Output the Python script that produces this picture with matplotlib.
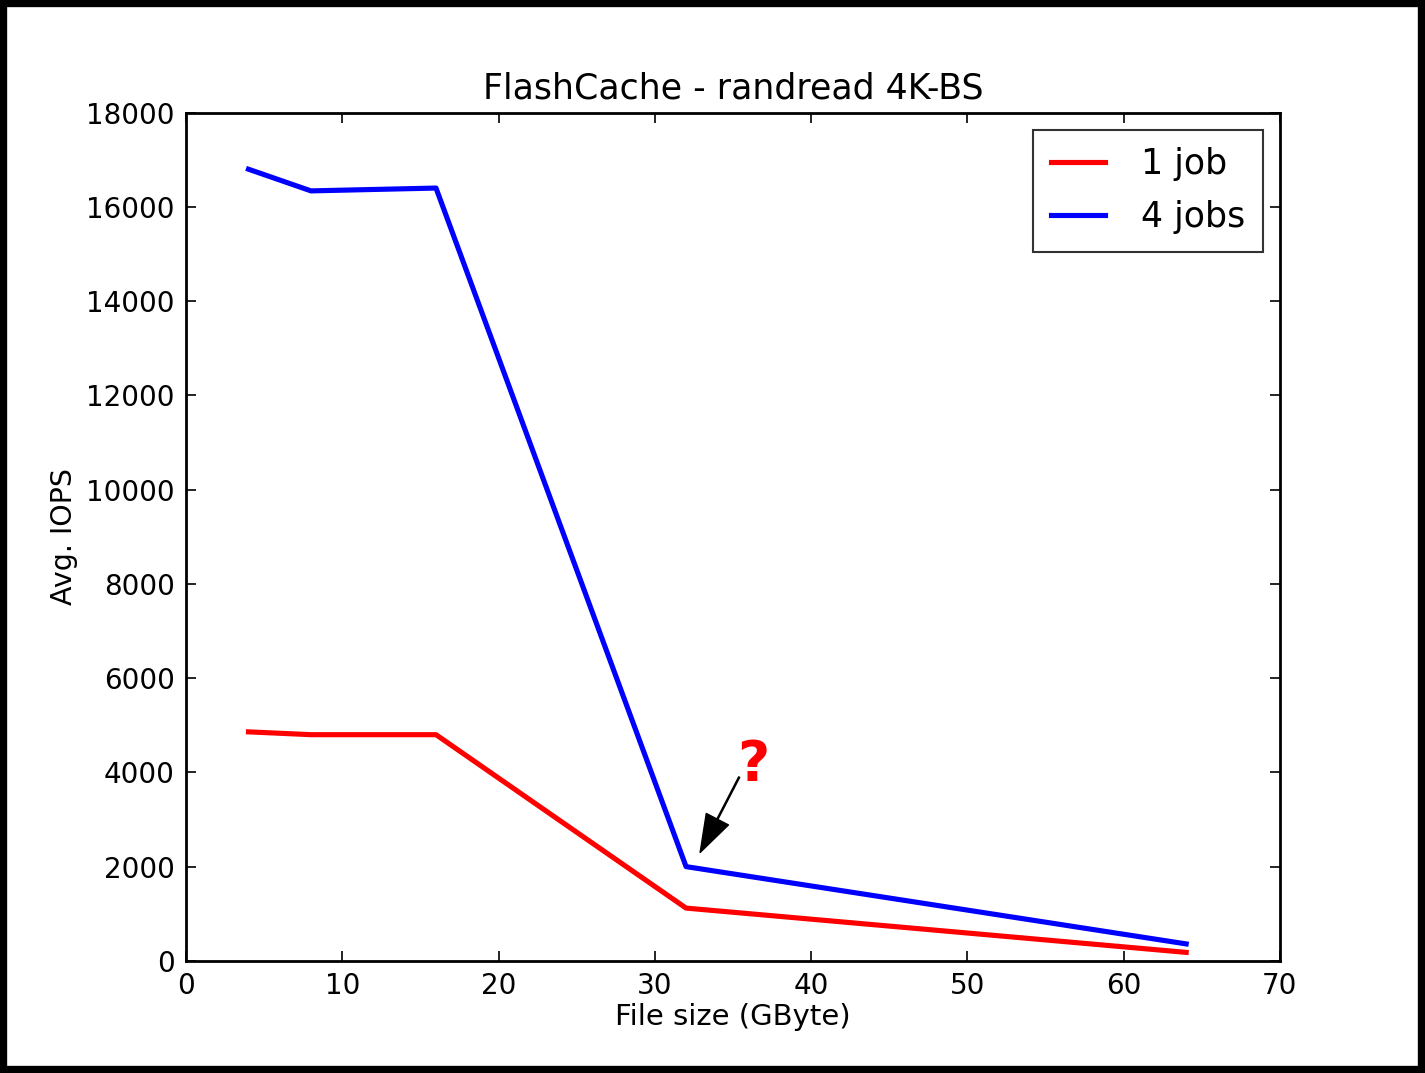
import matplotlib
matplotlib.use("Agg")
import matplotlib.pyplot as plt
from matplotlib.patches import Rectangle

# file size (GByte) and average IOPS
file_size = [4, 8, 16, 32, 64]
iops_1job = [4860, 4800, 4800, 1120, 180]
iops_4jobs = [16800, 16340, 16400, 2000, 360]

plt.rcParams["font.family"] = "DejaVu Sans"

fig = plt.figure(figsize=(14.25, 10.73), dpi=100)
ax = fig.add_axes([0.1305, 0.1045, 0.7677, 0.7905])

ax.plot(file_size, iops_1job, color="#ff0000", lw=3.7, label="1 job")
ax.plot(file_size, iops_4jobs, color="#0000ff", lw=3.7, label="4 jobs")

ax.set_xlim(0, 70)
ax.set_ylim(0, 18000)
ax.set_xticks(range(0, 71, 10))
ax.set_yticks(range(0, 18001, 2000))
ax.tick_params(direction="in", length=7, width=1.2, top=True, right=True,
               labelsize=20, pad=8)
for s in ax.spines.values():
    s.set_linewidth(2)

ax.set_title("FlashCache - randread 4K-BS", fontsize=25, pad=10)
ax.set_xlabel("File size (GByte)", fontsize=21, labelpad=2)
ax.set_ylabel("Avg. IOPS", fontsize=20.5, labelpad=6)

leg = ax.legend(loc="upper right", fontsize=25, fancybox=False,
                borderpad=0.5, handlelength=1.55, handletextpad=1.05,
                borderaxespad=0.5, labelspacing=0.55)
leg.get_frame().set_edgecolor("black")
leg.get_frame().set_linewidth(1.5)

ax.annotate("", xy=(32.9, 2300), xytext=(35.4, 3900),
            arrowprops=dict(facecolor="black", edgecolor="black",
                            width=0.8, headwidth=18, headlength=27))
ax.text(36.3, 4150, "?", color="#ff0000", fontsize=40, fontweight="bold",
        ha="center", va="center")

# thick black frame round the whole picture
fig.patches.append(Rectangle((0.002, 0.003), 0.996, 0.994, transform=fig.transFigure,
                             fill=False, edgecolor="black", linewidth=6))

fig.savefig("out.png", dpi=100)
